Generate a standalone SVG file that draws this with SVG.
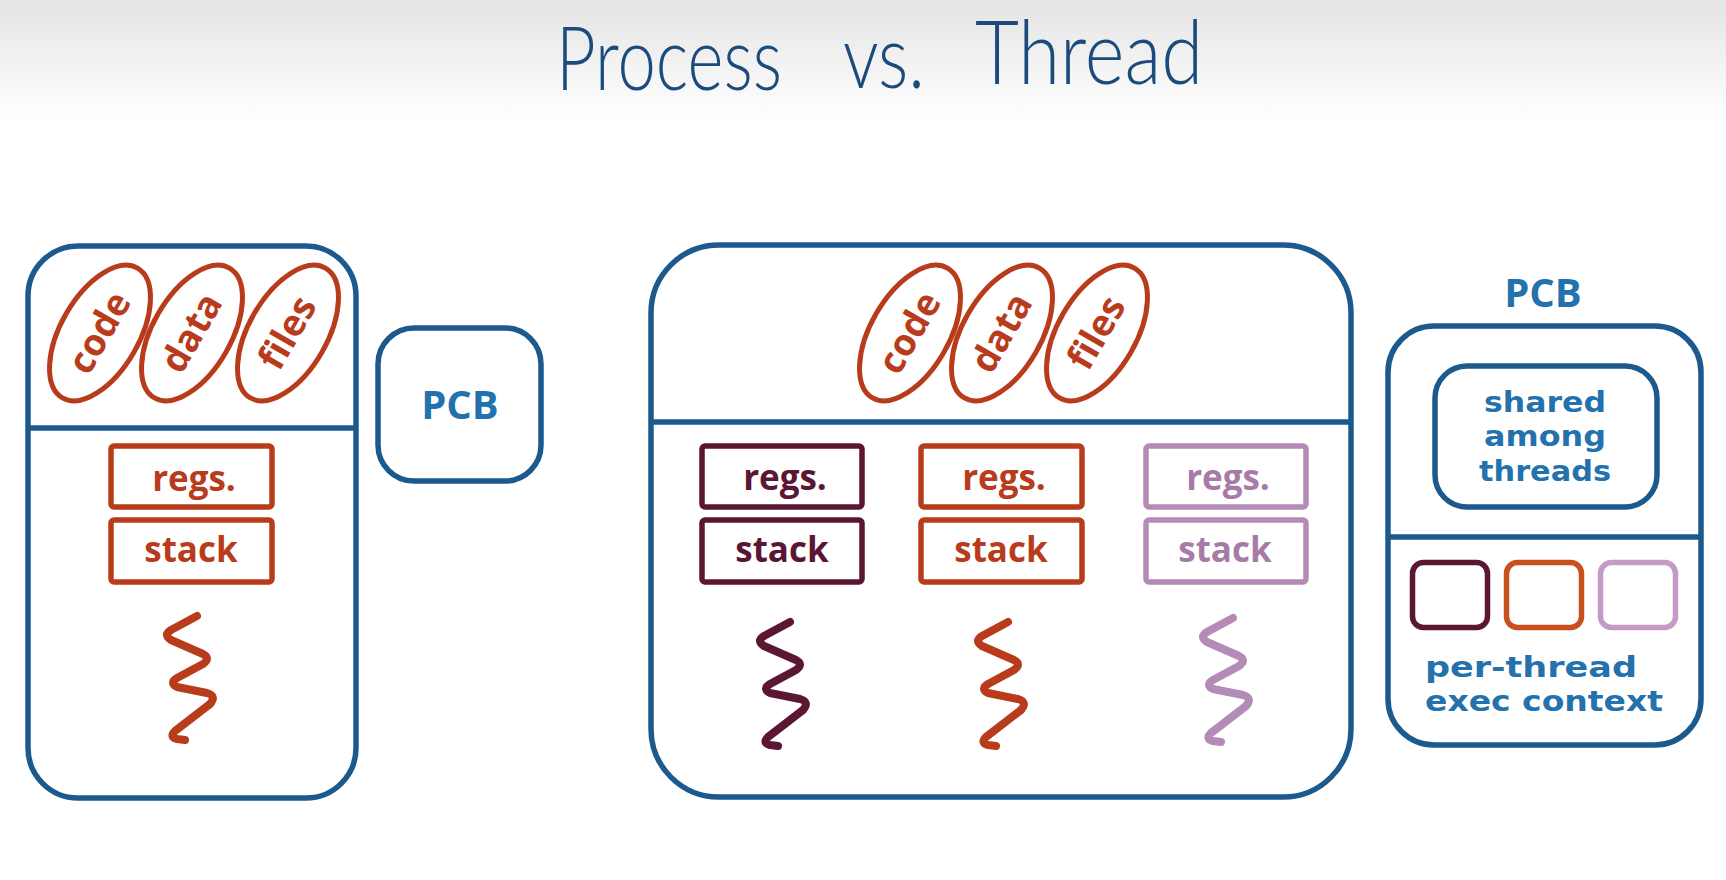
<svg xmlns="http://www.w3.org/2000/svg" width="1726" height="880" viewBox="0 0 1726 880">
<defs>
<linearGradient id="bg" x1="0" y1="0" x2="0" y2="1">
<stop offset="0" stop-color="#e4e4e4"/>
<stop offset="1" stop-color="#ffffff"/>
</linearGradient>
<path id="squig" d="M0,0 L-26,14 Q-34,19 -26,24 L6,38 Q14,42 6,48 L-20,62 Q-28,67 -20,71 L10,77 Q20,80 13,88 L-22,115 Q-28,121 -20,123 L-12,124"/>
</defs>
<style>
.box{fill:none;stroke:#1c5a8d;stroke-width:5.5}
.div{stroke:#1c5a8d;stroke-width:5.5}
.ell{fill:none;stroke:#b83c1c;stroke-width:5}
.t{font-family:"Open Sans","Liberation Sans",sans-serif;font-weight:700;text-anchor:middle}
.et{font-size:37px;fill:#b83c1c}
.bt{font-size:35px}
.pcb{font-size:40px;fill:#2472ad}
.rt{font-family:"DejaVu Sans","Liberation Sans",sans-serif;font-size:28px;fill:#2472ad}
.sq{fill:none;stroke-width:8;stroke-linecap:round;stroke-linejoin:round}
.tb{fill:none;stroke-width:5.5}
.o{stroke:#b83c1c}
.of{fill:#b83c1c}
.m{stroke:#5a1632}
.mf{fill:#5a1632}
.p{stroke:#b48ab6}
.pf{fill:#a67ca7}
.ttl{font-family:"Lato","Open Sans",sans-serif;font-weight:300;font-size:88px;fill:#1a4b7c}
</style>
<rect x="0" y="0" width="1726" height="120" fill="url(#bg)"/>
<rect x="0" y="120" width="1726" height="760" fill="#ffffff"/>

<g id="title">
<text class="ttl" x="556" y="90" textLength="226" lengthAdjust="spacingAndGlyphs">Process</text>
<text class="ttl" x="843" y="88" textLength="82" lengthAdjust="spacingAndGlyphs">vs.</text>
<text class="ttl" x="975" y="84" textLength="228" lengthAdjust="spacingAndGlyphs">Thread</text>
</g>

<g id="process">
<rect class="box" x="28" y="246" width="328" height="552" rx="50"/>
<line class="div" x1="28" y1="428" x2="356" y2="428"/>
<ellipse class="ell" rx="39" ry="75" transform="translate(100,333) rotate(30)"/>
<ellipse class="ell" rx="39" ry="75" transform="translate(192,333) rotate(30)"/>
<ellipse class="ell" rx="39" ry="75" transform="translate(288,333) rotate(30)"/>
<text class="t et" transform="translate(100,333) rotate(-60)" dy="12">code</text>
<text class="t et" transform="translate(192,333) rotate(-60)" dy="12">data</text>
<text class="t et" transform="translate(288,333) rotate(-60)" dy="12">files</text>
<rect class="tb o" x="111" y="446" width="161" height="61" rx="3"/>
<rect class="tb o" x="111" y="520" width="161" height="62" rx="3"/>
<text class="t bt of" x="194" y="491">regs.</text>
<text class="t bt of" x="191" y="562">stack</text>
<use href="#squig" class="sq o" transform="translate(197,616)"/>
</g>

<g id="pcb-process">
<rect class="box" x="378" y="328" width="163" height="153" rx="36"/>
<text class="t pcb" x="460" y="419">PCB</text>
</g>

<g id="multithread-process">
<rect class="box" x="651" y="245" width="700" height="552" rx="68"/>
<line class="div" x1="651" y1="422" x2="1351" y2="422"/>
<ellipse class="ell" rx="39" ry="75" transform="translate(910,333) rotate(30)"/>
<ellipse class="ell" rx="39" ry="75" transform="translate(1002,333) rotate(30)"/>
<ellipse class="ell" rx="39" ry="75" transform="translate(1097,333) rotate(30)"/>
<text class="t et" transform="translate(910,333) rotate(-60)" dy="12">code</text>
<text class="t et" transform="translate(1002,333) rotate(-60)" dy="12">data</text>
<text class="t et" transform="translate(1097,333) rotate(-60)" dy="12">files</text>

<rect class="tb m" x="702" y="446" width="160" height="61" rx="3"/>
<rect class="tb m" x="702" y="520" width="160" height="62" rx="3"/>
<text class="t bt mf" x="785" y="490">regs.</text>
<text class="t bt mf" x="782" y="562">stack</text>
<use href="#squig" class="sq m" transform="translate(790,622)"/>

<rect class="tb o" x="921" y="446" width="161" height="61" rx="3"/>
<rect class="tb o" x="921" y="520" width="161" height="62" rx="3"/>
<text class="t bt of" x="1004" y="490">regs.</text>
<text class="t bt of" x="1001" y="562">stack</text>
<use href="#squig" class="sq o" transform="translate(1008,622)"/>

<rect class="tb p" x="1146" y="446" width="160" height="61" rx="3"/>
<rect class="tb p" x="1146" y="520" width="160" height="62" rx="3"/>
<text class="t bt pf" x="1228" y="490">regs.</text>
<text class="t bt pf" x="1225" y="562">stack</text>
<use href="#squig" class="sq p" transform="translate(1233,618)"/>
</g>

<g id="pcb-threads">
<text class="t pcb" x="1543" y="307">PCB</text>
<rect class="box" x="1388" y="326" width="313" height="419" rx="46"/>
<line class="div" x1="1388" y1="537" x2="1701" y2="537"/>
<rect class="box" x="1435" y="366" width="222" height="141" rx="32"/>
<text class="t rt" x="1545" y="412" textLength="122" lengthAdjust="spacingAndGlyphs">shared</text>
<text class="t rt" x="1545" y="446" textLength="122" lengthAdjust="spacingAndGlyphs">among</text>
<text class="t rt" x="1545" y="481" textLength="132" lengthAdjust="spacingAndGlyphs">threads</text>
<rect class="tb m" x="1412.5" y="562.5" width="75" height="65" rx="11"/>
<rect class="tb o" x="1506.5" y="562.5" width="75" height="65" rx="11" style="stroke:#c8501f"/>
<rect class="tb p" x="1600.5" y="562.5" width="75" height="65" rx="11" style="stroke:#c49ac6"/>
<text class="t rt" x="1531" y="677" textLength="212" lengthAdjust="spacingAndGlyphs">per-thread</text>
<text class="t rt" x="1544" y="711" textLength="238" lengthAdjust="spacingAndGlyphs">exec context</text>
</g>
</svg>
